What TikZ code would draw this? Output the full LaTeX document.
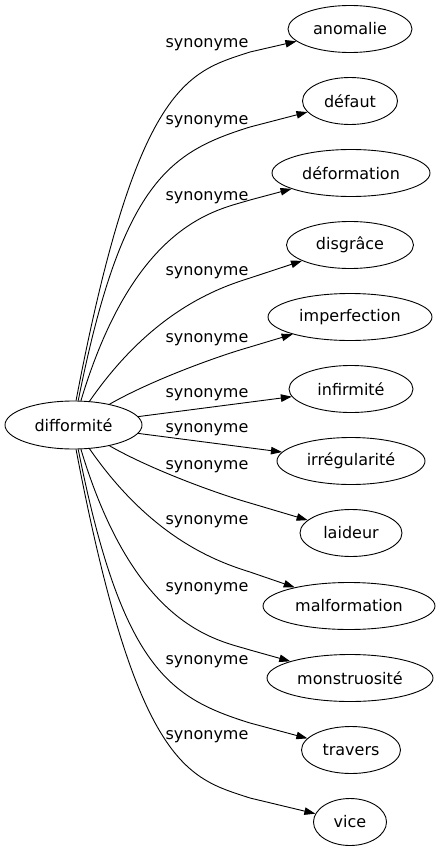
\documentclass[tikz,border=0pt]{standalone}
\usepackage{fontspec}
\setmainfont{DejaVu Sans}
\usetikzlibrary{arrows.meta,shapes.geometric}
\begin{document}
\begin{tikzpicture}[x=1pt,y=-1pt,
  every node/.style={font=\fontsize{16}{19}\selectfont},
  term/.style={draw, ellipse, inner sep=0pt, minimum height=47pt, line width=0.9pt},
  lbl/.style={inner sep=0pt},
  syn/.style={-{Triangle[length=11pt,width=7.5pt]}, line width=0.9pt}]
\useasboundingbox (0,0) rectangle (441,851);
\node[term, minimum width=137pt, minimum height=48pt] (src) at (73.5,425) {difformité};
\node[term, minimum width=124pt] (n1) at (350,29) {anomalie};
\node[term, minimum width=95pt] (n2) at (350,101) {défaut};
\node[term, minimum width=158pt] (n3) at (351,173) {déformation};
\node[term, minimum width=127pt] (n4) at (350,245) {disgrâce};
\node[term, minimum width=164pt] (n5) at (350,317) {imperfection};
\node[term, minimum width=124pt] (n6) at (351,389) {infirmité};
\node[term, minimum width=148pt] (n7) at (351,461) {irrégularité};
\node[term, minimum width=102pt] (n8) at (351,533) {laideur};
\node[term, minimum width=172pt] (n9) at (349,606) {malformation};
\node[term, minimum width=166pt] (n10) at (350,678) {monstruosité};
\node[term, minimum width=99pt] (n11) at (351,750) {travers};
\node[term, minimum width=73pt] (n12) at (350,822) {vice};

\node[lbl] (l1) at (207,45) {synonyme};
\node[lbl] (l2) at (207,122) {synonyme};
\node[lbl] (l3) at (207,198) {synonyme};
\node[lbl] (l4) at (207,273) {synonyme};
\node[lbl] (l5) at (207,340) {synonyme};
\node[lbl] (l6) at (207,395) {synonyme};
\node[lbl] (l7) at (207,430) {synonyme};
\node[lbl] (l8) at (207,467) {synonyme};
\node[lbl] (l9) at (207,522) {synonyme};
\node[lbl] (l10) at (207,589) {synonyme};
\node[lbl] (l11) at (207,662) {synonyme};
\node[lbl] (l12) at (207,737) {synonyme};

\draw[syn] (src.84) .. controls (136.8,81) and (188.6,72) .. (250,52) -- (n1);
\draw[syn] (src.79) .. controls (122,181) and (170,152) .. (250,127) -- (n2);
\draw[syn] (src.73) .. controls (135,221) and (218,210) .. (250,200) -- (n3);
\draw[syn] (src.56) .. controls (152,311) and (218,288) .. (250,278) -- (n4);
\draw[syn] (src.30) .. controls (150,381) and (215,357) .. (250,347) -- (n5);
\draw[syn] (src) -- (n6);
\draw[syn] (src) -- (n7);
\draw[syn] (src.-30) .. controls (150,469) and (215,493) .. (250,503) -- (n8);
\draw[syn] (src.-56) .. controls (152,539) and (218,562) .. (250,572) -- (n9);
\draw[syn] (src.-73) .. controls (135,629) and (218,640) .. (250,650) -- (n10);
\draw[syn] (src.-79) .. controls (122,669) and (170,698) .. (250,723) -- (n11);
\draw[syn] (src.-84) .. controls (136.8,769) and (188.6,778) .. (250,798) -- (n12);
\end{tikzpicture}
\end{document}
